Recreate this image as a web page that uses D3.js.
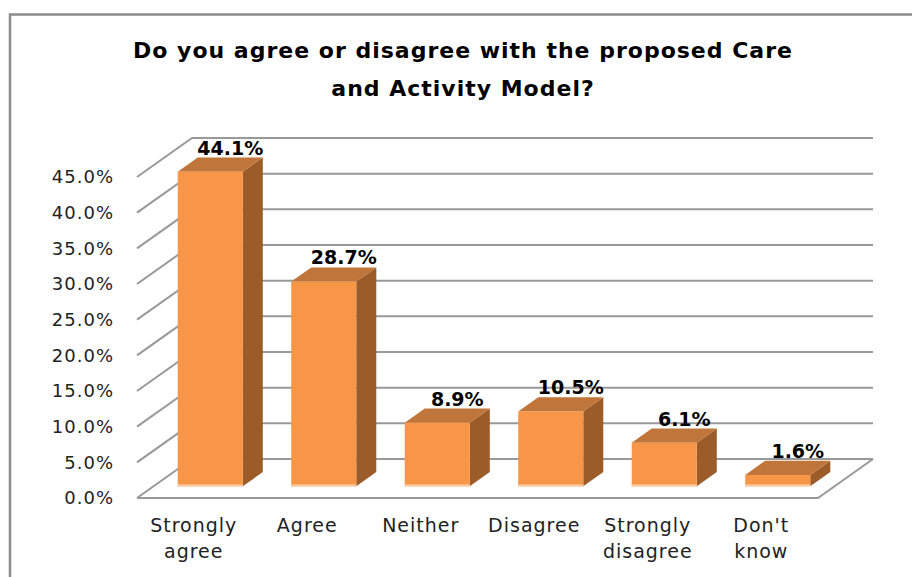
<!DOCTYPE html>
<html>
<head>
<meta charset="utf-8">
<script src="https://cdn.jsdelivr.net/npm/d3@7"></script>
<style>
  body { margin: 0; background: #fff; }
  text { font-family: "DejaVu Sans", sans-serif; }
</style>
</head>
<body>
<svg id="chart" width="912" height="577"></svg>
<script>
// Survey responses (percent of respondents)
const categories = ["Strongly agree", "Agree", "Neither", "Disagree", "Strongly disagree", "Don't know"];
const values = [44.1, 28.7, 8.9, 10.5, 6.1, 1.6];
const tickValues = [0, 5, 10, 15, 20, 25, 30, 35, 40, 45];
const titleLines = ["Do you agree or disagree with the proposed Care", "and Activity Model?"];

const svg = d3.select("#chart");
const W = 912, H = 577;

// oblique projection: depth vector of the 3D floor
const DX = 55, DY = -39;
const project = (x, y, t) => [x + DX * t, y + DY * t];

// front plane scales
const x = d3.scaleBand().domain(categories).range([137, 818])
  .paddingInner(0.427).paddingOuter(0.2135);
const y = d3.scaleLinear().domain([0, 45]).range([498, 177]);

const barT0 = 0.3, barT1 = 0.664;   // bar depth span within the floor
const pct = d3.format(".1f");

svg.append("rect").attr("width", W).attr("height", H).attr("fill", "#fff");

// outer frame (top and left edges)
svg.append("path").attr("d", `M10,${H} V14.5 H${W}`)
  .attr("fill", "none").attr("stroke", "#8c8c8c").attr("stroke-width", 2.5);

// title
svg.append("text").attr("x", 463).attr("text-anchor", "middle")
  .attr("font-weight", "bold").attr("font-size", 22).attr("letter-spacing", 1)
  .attr("fill", "#000")
  .selectAll("tspan").data(titleLines).join("tspan")
  .attr("x", 463).attr("y", (d, i) => 58 + i * 38).text(d => d);

// walls: side-wall diagonals and back-wall gridlines
const grid = svg.append("g").attr("stroke", "#999").attr("stroke-width", 2).attr("fill", "none");
const [x0, x1] = x.range();
grid.selectAll("path.tick").data(tickValues).join("path")
  .attr("class", "tick")
  .attr("d", v => {
    const a = [x0, y(v)];
    const b = project(x0, y(v), 1);
    const c = project(x1, y(v), 1);
    return `M${a}L${b}L${c}`;
  });
// floor front and right edges
grid.append("path").attr("d", () => {
  const b = project(x1, y(0), 1);
  return `M${x0},${y(0)}L${x1},${y(0)}L${b}`;
});

// tick labels
svg.append("g").selectAll("text").data(tickValues).join("text")
  .attr("x", 114).attr("y", v => y(v)).attr("dy", "0.36em")
  .attr("text-anchor", "end").attr("font-size", 18).attr("letter-spacing", 1)
  .attr("fill", "#222")
  .text(v => pct(v) + "%");

// bars
const bars = svg.append("g").selectAll("g").data(values).join("g");
bars.each(function (v, i) {
  const g = d3.select(this);
  const xl = x(categories[i]), xr = xl + x.bandwidth();
  const f = project;
  const yb = y(0), yt = y(v);
  // side face
  g.append("path").attr("fill", "#9c5c2a")
    .attr("d", `M${f(xr, yb, barT0)}L${f(xr, yb, barT1)}L${f(xr, yt, barT1)}L${f(xr, yt, barT0)}Z`);
  // top face
  g.append("path").attr("fill", "#c0753a")
    .attr("d", `M${f(xl, yt, barT0)}L${f(xr, yt, barT0)}L${f(xr, yt, barT1)}L${f(xl, yt, barT1)}Z`);
  // front face
  const p = f(xl, yt, barT0), q = f(xr, yb, barT0);
  g.append("rect").attr("fill", "#f79646")
    .attr("x", p[0]).attr("y", p[1]).attr("width", q[0] - p[0]).attr("height", q[1] - p[1]);
  // light lower rim
  g.append("rect").attr("fill", "#fbc8a0")
    .attr("x", p[0]).attr("y", q[1] - 2).attr("width", q[0] - p[0]).attr("height", 2);
  // value label above the back edge of the top face
  const lab = f((xl + xr) / 2, yt, barT1);
  g.append("text").attr("x", lab[0]).attr("y", lab[1] - 3)
    .attr("text-anchor", "middle").attr("font-weight", "bold").attr("font-size", 19)
    .attr("fill", "#000").text(pct(v) + "%");
});

// category labels (wrapped on spaces)
svg.append("g").selectAll("text").data(categories).join("text")
  .attr("text-anchor", "middle").attr("font-size", 19).attr("letter-spacing", 1)
  .attr("fill", "#222")
  .each(function (c) {
    const cx = x(c) + x.bandwidth() / 2;
    d3.select(this).selectAll("tspan").data(c.split(" ")).join("tspan")
      .attr("x", cx).attr("y", (d, i) => 532 + i * 26).text(d => d);
  });
</script>
</body>
</html>
